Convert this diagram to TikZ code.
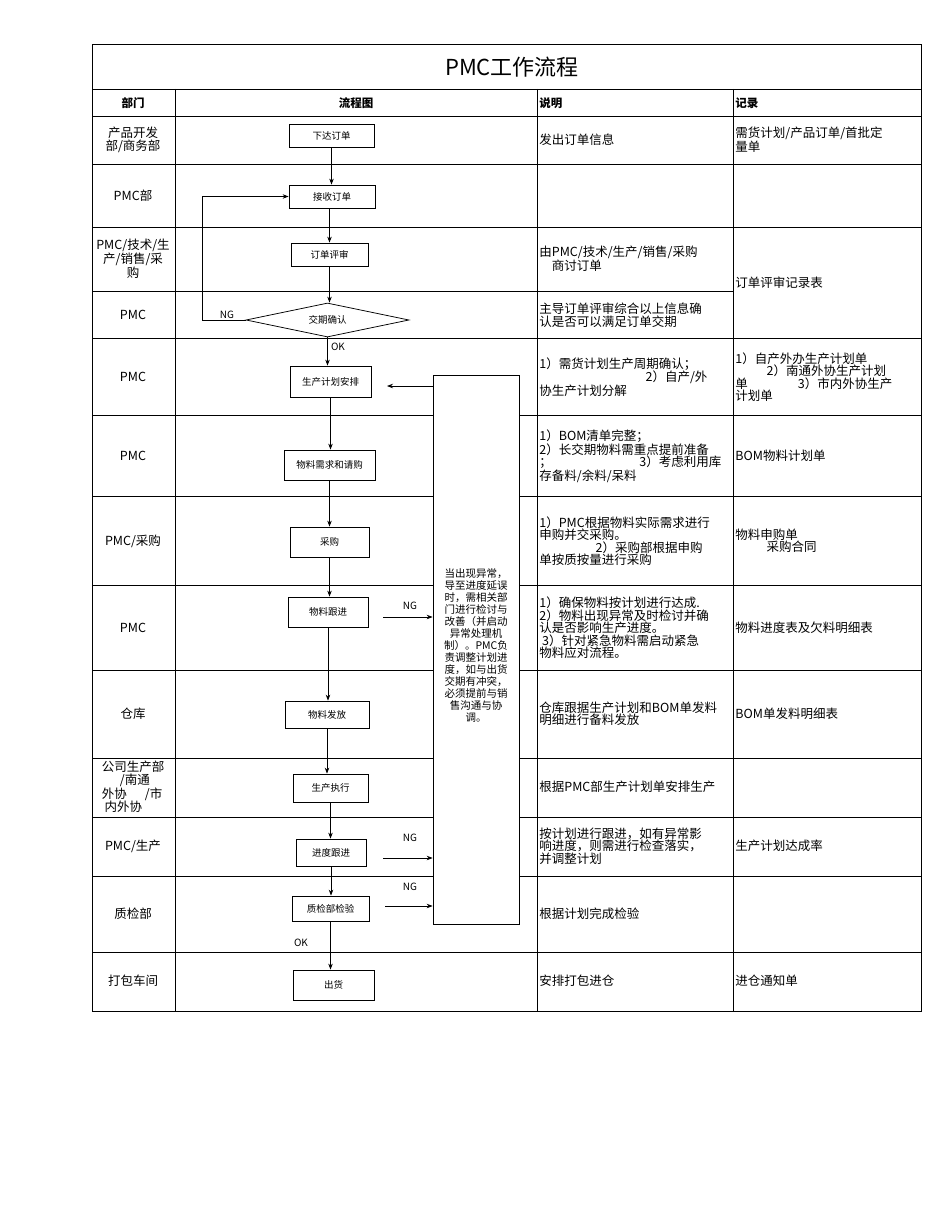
\documentclass[tikz,border=0pt]{standalone}
\usepackage{fontspec}
\setmainfont{Noto Sans CJK SC}
\usetikzlibrary{shapes.geometric,arrows.meta}
\tikzset{every picture/.style={line width=0.75pt}}
\tikzset{
  stepbox/.style={draw,fill=white,font=\fontsize{9.5}{10}\selectfont,inner sep=0pt},
  cell/.style={font=\fontsize{12.5}{12.5}\selectfont,align=left,anchor=west,inner sep=1pt},
  dept/.style={font=\fontsize{12.5}{12.5}\selectfont,align=center,inner sep=1pt},
  flow/.style={-{Stealth[length=6pt,width=4.5pt]}},
  tag/.style={font=\fontsize{10}{11}\selectfont,inner sep=1pt}
}
\begin{document}
\begin{tikzpicture}[x=1pt,y=1pt,yscale=-1,xscale=1]
	\useasboundingbox (0,0) rectangle (950,1230);
	\fill[white] (0,0) rectangle (950,1230);

	% table
	\draw (92,44) rectangle (921,1011);
	\draw (92,89) -- (921,89);
	\draw (92,116) -- (921,116);
	\foreach \x in {175,537,733} \draw (\x,89) -- (\x,1011);
	\foreach \y in {164,227,338,415,496,585,670,758,817,876,952} \draw (92,\y) -- (921,\y);
	\draw (92,291) -- (733,291);

	% title and header
	\node (title) at (512,67) {\fontsize{22}{24}\selectfont PMC工作流程};
	\node[font=\fontsize{11.5}{12}\selectfont\bfseries] (h1) at (133,103) {部门};
	\node[font=\fontsize{11.5}{12}\selectfont\bfseries] (h2) at (356,103) {流程图};
	\node[cell,font=\fontsize{11.5}{12}\selectfont\bfseries] (h3) at (538,103) {说明};
	\node[cell,font=\fontsize{11.5}{12}\selectfont\bfseries] (h4) at (734,103) {记录};

	% departments
	\node[dept] (d1) at (133,140) {产品开发\\部/商务部};
	\node[dept] (d2) at (133,196) {PMC部};
	\node[dept] (d3) at (133,259) {PMC/技术/生\\产/销售/采\\购};
	\node[dept] (d4) at (133,315) {PMC};
	\node[dept] (d5) at (133,377) {PMC};
	\node[dept] (d6) at (133,456) {PMC};
	\node[dept] (d7) at (133,541) {PMC/采购};
	\node[dept] (d8) at (133,628) {PMC};
	\node[dept] (d9) at (133,714) {仓库};
	\node[dept,align=left] (d10) at (133,787) {公司生产部\\\quad\ \ /南通\\外协\quad\ \ /市\\\ 内外协};
	\node[dept] (d11) at (133,846) {PMC/生产};
	\node[dept] (d12) at (133,914) {质检部};
	\node[dept] (d13) at (133,981) {打包车间};

	% notes
	\node[cell] (n1) at (538,140) {发出订单信息};
	\node[cell] (n3) at (538,259) {由PMC/技术/生产/销售/采购\\\quad 商讨订单};
	\node[cell] (n4) at (538,315) {主导订单评审综合以上信息确\\认是否可以满足订单交期};
	\node[cell] (n5) at (538,377) {1）需货计划生产周期确认；\\\hspace{8.5em}2）自产/外\\协生产计划分解};
	\node[cell] (n6) at (538,456) {1）BOM清单完整；\\2）长交期物料需重点提前准备\\；\hspace{7em}3）考虑利用库\\存备料/余料/呆料};
	\node[cell] (n7) at (538,541) {1）PMC根据物料实际需求进行\\申购并交采购。\\\hspace{4.5em}2）采购部根据申购\\单按质按量进行采购};
	\node[cell] (n8) at (538,628) {1）确保物料按计划进行达成.\\2）物料出现异常及时检讨并确\\认是否影响生产进度。\\\ 3）针对紧急物料需启动紧急\\物料应对流程。};
	\node[cell] (n9) at (538,714) {仓库跟据生产计划和BOM单发料\\明细进行备料发放};
	\node[cell] (n10) at (538,787) {根据PMC部生产计划单安排生产};
	\node[cell] (n11) at (538,846) {按计划进行跟进，如有异常影\\响进度，则需进行检查落实，\\并调整计划};
	\node[cell] (n12) at (538,914) {根据计划完成检验};
	\node[cell] (n13) at (538,981) {安排打包进仓};

	% records
	\node[cell] (r1) at (734,140) {需货计划/产品订单/首批定\\量单};
	\node[cell] (r3) at (734,283) {订单评审记录表};
	\node[cell] (r5) at (734,377) {1）自产外办生产计划单\\\hspace{2.5em}2）南通外协生产计划\\单\hspace{4em}3）市内外协生产\\计划单};
	\node[cell] (r6) at (734,456) {BOM物料计划单};
	\node[cell] (r7) at (734,541) {物料申购单\\\hspace{2.5em}采购合同};
	\node[cell] (r8) at (734,628) {物料进度表及欠料明细表};
	\node[cell] (r9) at (734,714) {BOM单发料明细表};
	\node[cell] (r11) at (734,846) {生产计划达成率};
	\node[cell] (r13) at (734,981) {进仓通知单};

	% flow chart
	\node[stepbox,minimum width=85pt,minimum height=23pt] (xd) at (331.5,135.5) {下达订单};
	\node[stepbox,minimum width=86pt,minimum height=23pt] (js) at (332,196.5) {接收订单};
	\node[stepbox,minimum width=77pt,minimum height=23pt] (ps) at (329.5,254.5) {订单评审};
	\node[draw,diamond,aspect=4.8,minimum width=163pt,minimum height=34pt,inner sep=0pt,font=\fontsize{9.5}{10}\selectfont] (qr) at (327.5,320) {交期确认};
	\node[stepbox,minimum width=81pt,minimum height=31pt] (ap) at (330.5,381.5) {生产计划安排};
	\node[stepbox,minimum width=91pt,minimum height=30pt] (qg) at (329.5,465) {物料需求和请购};
	\node[stepbox,minimum width=79pt,minimum height=30pt] (cg) at (329.5,542) {采购};
	\node[stepbox,minimum width=80pt,minimum height=30pt] (gj) at (328,612) {物料跟进};
	\node[stepbox,minimum width=84pt,minimum height=27pt] (ff) at (327,714.5) {物料发放};
	\node[stepbox,minimum width=75pt,minimum height=28pt] (zx) at (330.5,788) {生产执行};
	\node[stepbox,minimum width=70pt,minimum height=27pt] (jd) at (331,852.5) {进度跟进};
	\node[stepbox,minimum width=77pt,minimum height=25pt] (zj) at (330.5,908.5) {质检部检验};
	\node[stepbox,minimum width=81pt,minimum height=30pt] (ch) at (333.5,985) {出货};
	\node[draw,fill=white,minimum width=86pt,minimum height=549pt,inner sep=2pt] (yc) at (476,649.5) {};
	\node[font=\fontsize{10.5}{12}\selectfont,align=center,text width=84pt,inner sep=0pt] (yct) at (476,645) {当出现异常，\\导至进度延误\\时，需相关部\\门进行检讨与\\改善（并启动\\异常处理机\\制）。PMC负\\责调整计划进\\度，如与出货\\交期有冲突，\\必须提前与销\\售沟通与协\\调。};

	\draw[flow] (xd) -- (xd |- js.north);
	\draw[flow] (js) -- (js.south -| ps) -- (ps);
	\draw[flow] (ps) -- (ps |- qr.north);
	\draw[flow] (qr) -- (qr |- ap.north);
	\draw[flow] (ap) -- (ap |- qg.north);
	\draw[flow] (qg) -- (qg |- cg.north);
	\draw[flow] (cg) -- (cg |- gj.north);
	\draw[flow] (gj) -- (gj |- ff.north);
	\draw[flow] (ff) -- (ff |- zx.north);
	\draw[flow] (zx) -- (zx |- jd.north);
	\draw[flow] (jd) -- (jd |- zj.north);
	\draw[flow] (zj) -- (zj |- ch.north);
	\coordinate (lp) at (202,320);
	\draw[flow] (qr.west) -- (lp) |- (js.west);
	\coordinate (ba) at (387,386);
	\draw[flow] (yc.west |- ba) -- (ba);
	\coordinate (g1) at (383,617);
	\coordinate (g2) at (383,858);
	\coordinate (g3) at (385,906);
	\draw[flow] (g1) -- (yc.west |- g1);
	\draw[flow] (g2) -- (yc.west |- g2);
	\draw[flow] (g3) -- (yc.west |- g3);
	\node[tag] (ng0) at (227,315) {NG};
	\node[tag] (ng1) at (410,606) {NG};
	\node[tag] (ng2) at (410,838) {NG};
	\node[tag] (ng3) at (410,887) {NG};
	\node[tag] (ok1) at (338,347) {OK};
	\node[tag] (ok2) at (301,943) {OK};
\end{tikzpicture}
\end{document}
